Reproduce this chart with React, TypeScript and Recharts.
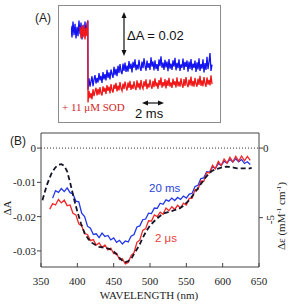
import React from 'react';
import { LineChart, Line, XAxis, YAxis, ReferenceLine } from 'recharts';

const SANS = "'Liberation Sans', Arial, sans-serif";
const SERIF = "'Liberation Serif', 'Times New Roman', 'DejaVu Serif', serif";

// ---- panel A: transient traces (time in ms, signal in mΔA) ----
const preTimeBlue = [-1.7, -1.6, -1.5, -1.4, -1.3, -1.2, -1.1, -1.0, -0.9, -0.8, -0.7, -0.6, -0.5, -0.4, -0.3, -0.2, -0.1, -0.02];
const preBlue = [2.0, -3.5, 4.0, -2.5, 3.0, -4.0, 1.5, -3.0, 4.5, -2.0, 3.5, -4.5, 2.5, -3.0, 4.0, -2.5, 3.0, 4.5];
const preTimeRed = [-0.8, -0.7, -0.6, -0.5, -0.4, -0.3, -0.2, -0.1, -0.02];
const preRed = [1.5, -4.0, 2.0, -3.5, 2.5, -4.5, 1.0, -3.0, 4.5];

const postTime = [
  0, 0.1, 0.2, 0.3, 0.4, 0.5, 0.6, 0.7, 0.8, 0.9, 1, 1.1, 1.2, 1.3, 1.4, 1.5, 1.6, 1.7, 1.8, 1.9,
  2, 2.1, 2.2, 2.3, 2.4, 2.5, 2.6, 2.7, 2.8, 2.9, 3, 3.1, 3.2, 3.3, 3.4, 3.5, 3.6, 3.7, 3.8, 3.9,
  4, 4.1, 4.2, 4.3, 4.4, 4.5, 4.6, 4.7, 4.8, 4.9, 5, 5.1, 5.2, 5.3, 5.4, 5.5, 5.6, 5.7, 5.8, 5.9,
  6, 6.1, 6.2, 6.3, 6.4, 6.5, 6.6, 6.7, 6.8, 6.9, 7, 7.1, 7.2, 7.3, 7.4, 7.5, 7.6, 7.7, 7.8, 7.9,
  8, 8.1, 8.2, 8.3, 8.4, 8.5, 8.6, 8.7, 8.8, 8.9, 9, 9.1, 9.2, 9.3, 9.4, 9.5, 9.6, 9.7, 9.8, 9.9,
  10, 10.1, 10.2, 10.3, 10.4, 10.5, 10.6, 10.7, 10.8, 10.9, 11, 11.1, 11.2, 11.3, 11.4, 11.5, 11.6, 11.7, 11.8, 11.9,
  12, 12.1, 12.2, 12.3, 12.4];
const postBlue = [
  -28.5, -23.0, -27.0, -24.5, -22.0, -26.8, -23.5, -21.5, -25.5, -22.8, -25.0, -20.5, -24.0, -21.8, -25.2, -20.0, -23.5, -21.0, -24.0, -19.0,
  -22.8, -20.2, -23.5, -18.8, -21.0, -22.8, -17.5, -21.5, -18.5, -22.0, -17.0, -20.5, -16.2, -19.8, -21.0, -16.0, -19.5, -15.5, -20.0, -17.0,
  -19.8, -14.8, -18.5, -16.0, -20.2, -15.2, -18.0, -14.0, -19.2, -16.5, -18.8, -14.2, -17.8, -19.5, -15.0, -18.2, -13.5, -17.0, -19.4, -14.6,
  -18.0, -15.8, -19.0, -13.0, -17.5, -15.0, -19.2, -14.4, -18.6, -16.2, -19.5, -14.0, -17.2, -12.5, -18.0, -15.5, -19.0, -14.2, -17.8, -15.0,
  -19.6, -13.8, -18.4, -16.0, -19.0, -14.5, -17.5, -13.2, -19.2, -15.6, -18.2, -14.0, -19.5, -16.4, -18.0, -13.6, -19.0, -15.2, -17.6, -14.5,
  -19.8, -15.0, -18.5, -13.8, -19.2, -16.0, -18.0, -14.6, -20.0, -15.4, -18.8, -13.5, -19.5, -16.2, -18.4, -14.0, -20.2, -15.8, -19.0, -12.8,
  -18.6, -15.2, -11.0, -19.5, -16.5];
const postRed = [
  -34.5, -29.0, -32.5, -30.0, -33.0, -28.2, -31.5, -29.2, -27.5, -31.2, -28.0, -30.8, -27.2, -30.0, -31.2, -26.8, -29.5, -27.5, -30.5, -26.2,
  -29.0, -27.0, -30.2, -25.8, -28.6, -29.8, -26.0, -28.0, -25.2, -29.2, -26.5, -28.8, -24.8, -27.8, -29.0, -25.5, -28.2, -24.6, -27.0, -28.8,
  -25.0, -27.6, -24.2, -28.5, -26.0, -28.0, -24.5, -27.2, -28.6, -24.0, -27.5, -25.2, -28.4, -23.8, -26.8, -28.0, -24.4, -27.0, -23.5, -28.2,
  -25.5, -27.4, -23.6, -26.5, -28.0, -24.2, -27.2, -23.0, -26.8, -25.0, -28.0, -23.8, -26.4, -22.6, -27.5, -24.8, -26.8, -23.4, -27.8, -24.0,
  -26.6, -22.8, -27.0, -25.0, -27.6, -23.2, -26.2, -24.4, -27.4, -22.5, -26.8, -24.6, -27.0, -23.0, -26.0, -27.5, -23.4, -26.6, -22.4, -25.8,
  -27.2, -23.6, -26.4, -22.2, -26.8, -24.2, -27.0, -22.8, -25.6, -27.0, -23.2, -26.2, -21.8, -26.6, -24.0, -26.8, -22.4, -25.4, -27.0, -22.6,
  -26.0, -23.8, -26.4, -21.6, -25.8];

// ---- panel B: difference spectra ----
const specWavelength = [362, 366, 370, 374, 378, 382, 386, 390, 394, 398, 402, 406, 410, 414, 418, 422, 426, 430, 434, 438,
  442, 446, 450, 454, 458, 462, 466, 470, 474, 478, 482, 486, 490, 494, 498, 502, 506, 510, 514, 518,
  522, 526, 530, 534, 538, 542, 546, 550, 554, 558, 562, 566, 570, 574, 578, 582, 586, 590, 594, 598,
  602, 606, 610, 614, 618, 622, 626, 630, 634, 638];
const spec20ms = [null, -0.0146, -0.0124, -0.0129, -0.0118, -0.0127, -0.0116, -0.0130, -0.0134, -0.0155,
  -0.0157, -0.0190, -0.0200, -0.0228, -0.0234, -0.0252, -0.0250, -0.0261, -0.0248, -0.0258,
  -0.0255, -0.0268, -0.0262, -0.0275, -0.0269, -0.0280, -0.0271, -0.0274, -0.0257, -0.0252,
  -0.0230, -0.0227, -0.0209, -0.0207, -0.0190, -0.0191, -0.0175, -0.0176, -0.0161, -0.0164,
  -0.0151, -0.0155, -0.0146, -0.0153, -0.0144, -0.0150, -0.0140, -0.0146, -0.0134, -0.0132,
  -0.0112, -0.0109, -0.0089, -0.0087, -0.0069, -0.0070, -0.0055, -0.0059, -0.0045, -0.0051,
  -0.0038, -0.0044, -0.0033, -0.0041, -0.0031, -0.0040, -0.0033, -0.0045, -0.0040, -0.0048];
const spec2us = [-0.0178, -0.0162, -0.0166, -0.0150, -0.0160, -0.0152, -0.0168, -0.0166, -0.0190, -0.0195,
  -0.0221, -0.0227, -0.0250, -0.0252, -0.0270, -0.0267, -0.0283, -0.0277, -0.0290, -0.0283,
  -0.0297, -0.0292, -0.0308, -0.0307, -0.0325, -0.0323, -0.0338, -0.0334, -0.0314, -0.0305,
  -0.0275, -0.0268, -0.0240, -0.0235, -0.0212, -0.0213, -0.0195, -0.0200, -0.0187, -0.0193,
  -0.0175, -0.0183, -0.0171, -0.0179, -0.0167, -0.0175, -0.0161, -0.0166, -0.0147, -0.0146,
  -0.0121, -0.0121, -0.0096, -0.0097, -0.0071, -0.0073, -0.0050, -0.0060, -0.0039, -0.0051,
  -0.0032, -0.0044, -0.0027, -0.0040, -0.0024, -0.0038, -0.0023, -0.0037, -0.0024, -0.0036];
const refWavelength = [352, 355, 358, 361, 364, 367, 370, 374, 378, 382, 386, 390, 395, 400, 405, 410, 415, 420, 425, 430,
  435, 440, 445, 450, 455, 460, 465, 470, 475, 480, 485, 490, 495, 500, 505, 510, 515, 520, 525, 530,
  535, 540, 545, 550, 555, 560, 565, 570, 575, 580, 585, 590, 595, 600, 605, 610, 615, 620, 625, 630, 635, 640];
const refDeltaA = [-0.0152, -0.0130, -0.0108, -0.0092, -0.0076, -0.0065, -0.0056, -0.0049, -0.0047, -0.0052,
  -0.0068, -0.0100, -0.0145, -0.0185, -0.0220, -0.0248, -0.0265, -0.0276, -0.0283, -0.0288,
  -0.0290, -0.0292, -0.0295, -0.0302, -0.0312, -0.0325, -0.0334, -0.0330, -0.0320, -0.0302,
  -0.0285, -0.0262, -0.0242, -0.0226, -0.0215, -0.0205, -0.0196, -0.0190, -0.0187, -0.0184,
  -0.0180, -0.0177, -0.0170, -0.0160, -0.0150, -0.0135, -0.0120, -0.0105, -0.0090, -0.0077,
  -0.0067, -0.0062, -0.0059, -0.0056, -0.0054, -0.0055, -0.0057, -0.0059, -0.0059, -0.0059, -0.0060, -0.0058];

const xTicks = [350, 400, 450, 500, 550, 600, 650];
const yTicks = [0, -0.005, -0.01, -0.015, -0.02, -0.025, -0.03];
const epsTicks = [0, -5];

const Y_MIN = -0.0347;
const Y_MAX = 0.0044;
const EPS_PER_DA = 5 / 0.0203;

const toPoints = (xs: number[], ys: (number | null)[]) => xs.map((x, i) => ({ x, y: ys[i] }));

const blueTrace = [...toPoints(preTimeBlue, preBlue), ...toPoints(postTime, postBlue)];
const redTrace = [...toPoints(preTimeRed, preRed), ...toPoints(postTime, postRed)];
const blueSpec = toPoints(specWavelength, spec20ms);
const redSpec = toPoints(specWavelength, spec2us);
const refSpec = toPoints(refWavelength, refDeltaA);

const AXIS = '#444';
const serifStyle = { fontFamily: SERIF };
const sansStyle = { fontFamily: SANS };

const BottomTick = ({ x, y, payload }: any) => (
  <g>
    <line x1={x} x2={x} y1={y} y2={y - 4} stroke={AXIS} />
    <text x={x} y={y + 18} textAnchor="middle" style={serifStyle} fontSize={11} fill="#222">{payload.value}</text>
  </g>
);

const LeftTick = ({ x, y, payload }: any) => {
  const v = payload.value;
  const major = Math.round(Math.abs(v) * 200) % 2 === 0;
  return (
    <g>
      <line x1={x - 4} x2={x} y1={y} y2={y} stroke={AXIS} />
      {major && (
        <text x={x - 5} y={y + 4} textAnchor="end" style={serifStyle} fontSize={11} fill="#222">
          {v === 0 ? '0' : v.toFixed(2)}
        </text>
      )}
    </g>
  );
};

const RightTick = ({ x, y, payload }: any) => {
  const v = payload.value;
  return (
    <g>
      <line x1={x} x2={x + 4} y1={y} y2={y} stroke={AXIS} />
      {v === 0 ? (
        <text x={x + 4} y={y + 4} style={serifStyle} fontSize={11} fill="#222">0</text>
      ) : (
        <text x={x + 15} y={y + 2} textAnchor="middle" transform={`rotate(-90, ${x + 15}, ${y + 2})`}
          style={serifStyle} fontSize={11} fill="#222">{String(v)}</text>
      )}
    </g>
  );
};

const Arrow = ({ x1, y1, x2, y2 }: { x1: number; y1: number; x2: number; y2: number }) => {
  const vertical = x1 === x2;
  return vertical ? (
    <g>
      <line x1={x1} x2={x2} y1={y1 + 4} y2={y2 - 4} stroke="#111" strokeWidth={1.2} />
      <polygon points={`${x1},${y1} ${x1 - 2.5},${y1 + 6} ${x1 + 2.5},${y1 + 6}`} fill="#111" />
      <polygon points={`${x2},${y2} ${x2 - 2.5},${y2 - 6} ${x2 + 2.5},${y2 - 6}`} fill="#111" />
    </g>
  ) : (
    <g>
      <line x1={x1 + 4} x2={x2 - 4} y1={y1} y2={y2} stroke="#111" strokeWidth={1.2} />
      <polygon points={`${x1},${y1} ${x1 + 6},${y1 - 2.5} ${x1 + 6},${y1 + 2.5}`} fill="#111" />
      <polygon points={`${x2},${y2} ${x2 - 6},${y2 - 2.5} ${x2 - 6},${y2 + 2.5}`} fill="#111" />
    </g>
  );
};

export default function App() {
  return (
    <div style={{ position: 'absolute', left: 0, top: 0, width: 297, height: 304, background: '#fff', overflow: 'hidden' }}>
      {/* panel A frame */}
      <div style={{ position: 'absolute', left: 58, top: 5, width: 163, height: 118, border: '1px solid #8c8c8c', boxSizing: 'border-box' }} />
      <div style={{ position: 'absolute', left: 58, top: 5 }}>
        <LineChart width={163} height={118} margin={{ top: 5, right: 8, bottom: 13, left: 13 }}>
          <XAxis type="number" dataKey="x" domain={[-1.7, 12.5]} allowDataOverflow hide />
          <YAxis type="number" dataKey="y" domain={[-38.1, 9.52]} allowDataOverflow hide />
          <Line data={blueTrace} dataKey="y" stroke="#1414f0" strokeWidth={1.3} dot={false} isAnimationActive={false} />
          <Line data={redTrace} dataKey="y" stroke="#f01818" strokeWidth={1.3} dot={false} isAnimationActive={false} />
        </LineChart>
      </div>

      {/* panel B */}
      <div style={{ position: 'absolute', left: 0, top: 125 }}>
        <LineChart width={297} height={179} margin={{ top: 8, right: 0, bottom: 3, left: 0 }}>
          <XAxis type="number" dataKey="x" domain={[350, 650]} ticks={xTicks} allowDataOverflow
            height={34} tickSize={0} tickMargin={0} tickLine={false} axisLine={{ stroke: AXIS }} tick={<BottomTick />} />
          <YAxis yAxisId="left" type="number" domain={[Y_MIN, Y_MAX]} ticks={yTicks} allowDataOverflow
            width={41} tickSize={0} tickMargin={0} tickLine={false} axisLine={{ stroke: AXIS }} tick={<LeftTick />} />
          <YAxis yAxisId="right" orientation="right" type="number" domain={[Y_MIN * EPS_PER_DA, Y_MAX * EPS_PER_DA]}
            ticks={epsTicks} allowDataOverflow width={38} tickSize={0} tickMargin={0} tickLine={false}
            axisLine={{ stroke: AXIS }} tick={<RightTick />} />
          <ReferenceLine yAxisId="left" y={Y_MAX} stroke={AXIS} />
          <ReferenceLine yAxisId="left" y={0} stroke="#333" strokeDasharray="1 2" />
          <Line yAxisId="left" data={blueSpec} dataKey="y" stroke="#2236e8" strokeWidth={1.3} dot={false} isAnimationActive={false} />
          <Line yAxisId="left" data={redSpec} dataKey="y" stroke="#f02828" strokeWidth={1.3} dot={false} isAnimationActive={false} />
          <Line yAxisId="left" data={refSpec} dataKey="y" stroke="#141428" strokeWidth={1.8} strokeDasharray="5 3" dot={false} isAnimationActive={false} />
        </LineChart>
      </div>

      {/* annotations */}
      <svg width={297} height={304} style={{ position: 'absolute', left: 0, top: 0, pointerEvents: 'none' }}>
        <text x={35} y={22} style={sansStyle} fontSize={12} fill="#222">(A)</text>
        <Arrow x1={124} y1={12} x2={124} y2={56} />
        <text x={127} y={40} style={sansStyle} fontSize={13} fill="#111">ΔA = 0.02</text>
        <text x={62} y={111} style={serifStyle} fontSize={11} fill="#d02828">+ 11 μM SOD</text>
        <Arrow x1={142} y1={103} x2={164} y2={103} />
        <text x={135} y={118} style={sansStyle} fontSize={13} fill="#111">2 ms</text>

        <text x={10} y={145} style={sansStyle} fontSize={12} fill="#222">(B)</text>
        <text x={149} y={191.5} style={sansStyle} fontSize={11.5} fill="#2a44d6">20 ms</text>
        <text x={155} y={241.5} style={sansStyle} fontSize={11.5} fill="#e8403a">2 μs</text>
        <text x={11} y={208} textAnchor="middle" transform="rotate(-90, 11, 208)" style={serifStyle} fontSize={11} fill="#222">ΔA</text>
        <text x={285} y={216} textAnchor="middle" transform="rotate(-90, 285, 216)" style={serifStyle} fontSize={11} fill="#222">
          Δε (mM<tspan dy={-4} fontSize={7}>-1</tspan><tspan dy={4}> cm</tspan><tspan dy={-4} fontSize={7}>-1</tspan><tspan dy={4}>)</tspan>
        </text>
        <text x={149} y={299} textAnchor="middle" style={serifStyle} fontSize={11} fill="#222">WAVELENGTH (nm)</text>
      </svg>
    </div>
  );
}
